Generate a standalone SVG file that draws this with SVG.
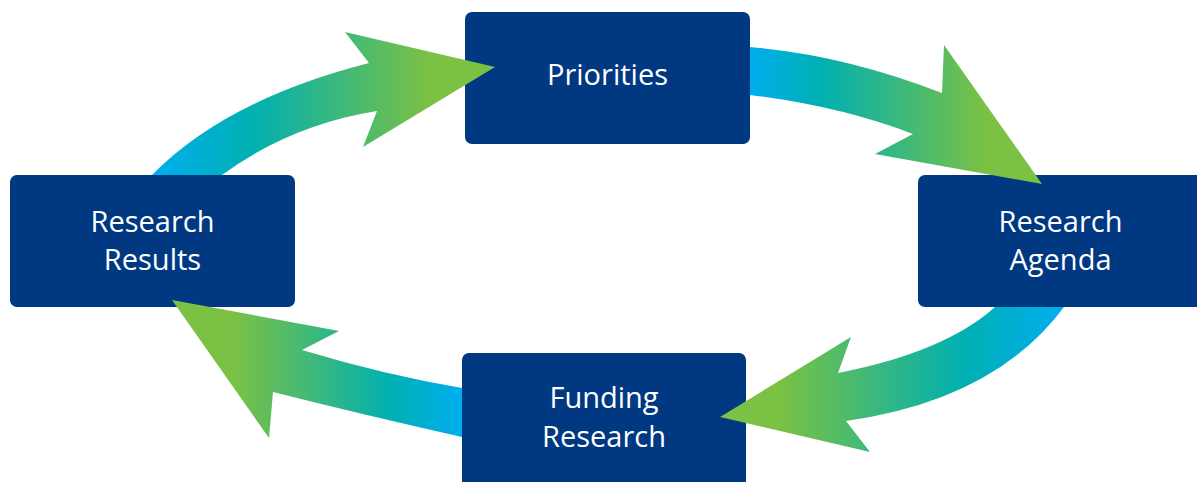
<svg xmlns="http://www.w3.org/2000/svg" width="1197" height="482" viewBox="0 0 1197 482">
<defs>
<linearGradient id="g1" gradientUnits="userSpaceOnUse" x1="152" y1="0" x2="495" y2="0">
<stop offset="0" stop-color="#00AEEF"/><stop offset="0.29" stop-color="#00B0B2"/><stop offset="0.81" stop-color="#7BC143"/><stop offset="1" stop-color="#7BC143"/>
</linearGradient>
<linearGradient id="g2" gradientUnits="userSpaceOnUse" x1="750" y1="0" x2="1042" y2="0">
<stop offset="0" stop-color="#00AEEF"/><stop offset="0.24" stop-color="#00B0B2"/><stop offset="0.81" stop-color="#7BC143"/><stop offset="1" stop-color="#7BC143"/>
</linearGradient>
<linearGradient id="g3" gradientUnits="userSpaceOnUse" x1="1064" y1="0" x2="720" y2="0">
<stop offset="0" stop-color="#00AEEF"/><stop offset="0.29" stop-color="#00B0B2"/><stop offset="0.83" stop-color="#7BC143"/><stop offset="1" stop-color="#7BC143"/>
</linearGradient>
<linearGradient id="g4" gradientUnits="userSpaceOnUse" x1="462" y1="0" x2="172" y2="0">
<stop offset="0" stop-color="#00AEEF"/><stop offset="0.24" stop-color="#00B0B2"/><stop offset="0.79" stop-color="#7BC143"/><stop offset="1" stop-color="#7BC143"/>
</linearGradient>
</defs>
<style>
.box{fill:#003882;}
.lbl{font-family:"Open Sans","Liberation Sans",sans-serif;font-size:29px;fill:#ffffff;text-anchor:middle;}
</style>
<rect width="1197" height="482" fill="#ffffff"/>
<g id="node-priorities">
<rect class="box" x="465" y="12" width="285" height="132" rx="7"/>
<text class="lbl" x="607.5" y="85">Priorities</text>
</g>
<g id="node-research-results">
<rect class="box" x="10" y="175" width="285" height="132" rx="7"/>
<text class="lbl" x="152.5" y="232">Research</text>
<text class="lbl" x="152.5" y="270">Results</text>
</g>
<g id="node-research-agenda">
<rect class="box" x="918" y="175" width="285" height="132" rx="7"/>
<text class="lbl" x="1060.5" y="232">Research</text>
<text class="lbl" x="1060.5" y="270">Agenda</text>
</g>
<g id="node-funding-research">
<rect class="box" x="462" y="353" width="284" height="135" rx="7"/>
<text class="lbl" x="604" y="408">Funding</text>
<text class="lbl" x="604" y="447">Research</text>
</g>
<g id="connectors">
<path d="M152,175 Q225,100 369,63 L345,32 L495,67 L363,147 L377,111 Q290,125 222,175 Z" fill="url(#g1)"/>
<path d="M750,47 Q845,55 942,93 L944,45 L1042,184 L875,154 L913,134 Q840,106 750,95 Z" fill="url(#g2)"/>
<path d="M1064,307 Q995,400 846,421 L870,452 L720,417 L851,337 L838,373 Q945,352 995,307 Z" fill="url(#g3)"/>
<path d="M462,388 Q385,375 302,350 L339,331 L172,300 L269,438 L273,392 Q360,414 462,437 Z" fill="url(#g4)"/>
</g>
</svg>
